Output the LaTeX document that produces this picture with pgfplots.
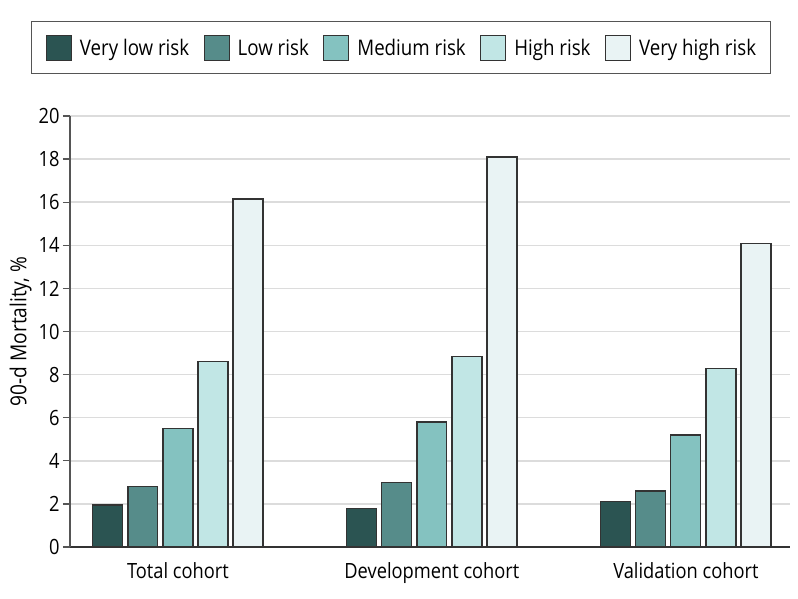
\documentclass[border=0pt]{standalone}
\usepackage{fontspec}
\setmainfont{Open Sans}[FakeStretch=0.87]
\usepackage{pgfplots}
\pgfplotsset{compat=1.18}
\definecolor{c1}{HTML}{2B5452}
\definecolor{c2}{HTML}{568C8A}
\definecolor{c3}{HTML}{84C2C0}
\definecolor{c4}{HTML}{C1E6E5}
\definecolor{c5}{HTML}{E9F3F4}
\definecolor{edge}{HTML}{333333}
\definecolor{gridgray}{HTML}{DCDCDC}
\definecolor{axisgray}{HTML}{555555}
\begin{document}
\begin{tikzpicture}
\useasboundingbox (-70pt,-51pt) rectangle (728pt,547pt);
\begin{axis}[
  at={(0pt,0pt)}, anchor=south west,
  scale only axis, width=720pt, height=431pt,
  ybar, bar width=0.118,
  xmin=-0.425, xmax=2.41, ymin=0, ymax=20,
  xtick={0,1,2},
  xticklabels={Total cohort, Development cohort, Validation cohort},
  ytick={0,2,...,20},
  axis x line*=bottom, axis y line*=left,
  x axis line style={-, draw=edge, line width=1.3pt},
  y axis line style={-, draw=axisgray, line width=1.2pt},
  xtick style={draw=none},
  ytick style={draw=axisgray, line width=1.2pt},
  tick align=outside, major tick length=7pt,
  ymajorgrids, grid style={draw=gridgray, line width=1.5pt},
  /pgf/number format/assume math mode=true,
  tick label style={font=\fontsize{21}{25}\selectfont, text=black},
  xticklabel style={yshift=-5pt},
  ylabel={90-d Mortality, \%},
  ylabel style={font=\fontsize{22}{26}\selectfont},
  legend columns=5,
  legend cell align=left,
  legend style={at={(0.4597,1.1578)}, anchor=center, draw=axisgray, line width=1pt,
    font=\fontsize{21.5}{25}\selectfont, inner xsep=14pt, inner ysep=13pt,
    nodes={inner sep=0pt},
    /tikz/every odd column/.append style={column sep=8pt},
    /tikz/every even column/.append style={column sep=14.5pt}},
  legend image code/.code={\draw[#1, draw=edge, line width=1pt] (0pt,-12.5pt) rectangle (25pt,12.5pt);},
]
\addplot[fill=c1, draw=edge, line width=1.2pt, bar shift=-0.276] coordinates {(0,1.95) (1,1.8) (2,2.1)};
\addplot[fill=c2, draw=edge, line width=1.2pt, bar shift=-0.138] coordinates {(0,2.8) (1,3.0) (2,2.6)};
\addplot[fill=c3, draw=edge, line width=1.2pt, bar shift=0] coordinates {(0,5.5) (1,5.8) (2,5.2)};
\addplot[fill=c4, draw=edge, line width=1.2pt, bar shift=0.138] coordinates {(0,8.6) (1,8.85) (2,8.3)};
\addplot[fill=c5, draw=edge, line width=1.2pt, bar shift=0.276] coordinates {(0,16.15) (1,18.1) (2,14.1)};
\legend{Very low risk, Low risk, Medium risk, High risk, Very high risk}
\end{axis}
\end{tikzpicture}
\end{document}
